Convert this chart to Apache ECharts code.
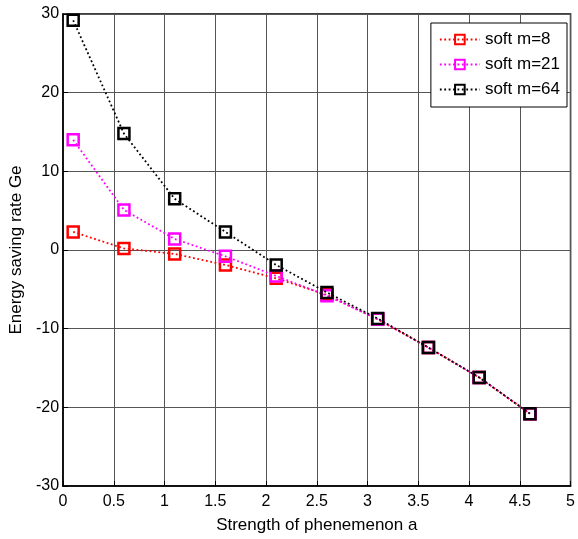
<!DOCTYPE html>
<html><head><meta charset="utf-8">
<script src="https://cdn.jsdelivr.net/npm/echarts@6/dist/echarts.min.js"></script>
<style>html,body{margin:0;padding:0;background:#fff}#c{width:578px;height:539px}</style>
</head><body><div id="c"></div>
<script>
const xValues = [0.1, 0.6, 1.1, 1.6, 2.1, 2.6, 3.1, 3.6, 4.1, 4.6];
const soft8 = [2.3, 0.2, -0.5, -1.9, -3.6, -5.7, -8.8, -12.4, -16.2, -20.8];
const soft21 = [14.0, 5.1, 1.4, -0.8, -3.3, -5.8, -8.8, -12.4, -16.2, -20.8];
const soft64 = [29.2, 14.8, 6.5, 2.3, -1.9, -5.4, -8.7, -12.4, -16.2, -20.8];
const seriesNames = ['soft m=8', 'soft m=21', 'soft m=64'];
const seriesColors = ['#ff0000', '#ff00ff', '#000000'];
const seriesData = [soft8, soft21, soft64];

const chart = echarts.init(document.getElementById('c'), null, {renderer: 'canvas'});
const font = 'Liberation Sans, Arial, sans-serif';
chart.setOption({
  animation: false,
  backgroundColor: '#fff',
  grid: {left: 62, right: 5, top: 14, bottom: 52, show: true, borderColor: '#000', borderWidth: 1.5, backgroundColor: 'transparent'},
  legend: {
    orient: 'vertical', right: 11, top: 23,
    backgroundColor: '#fff', borderColor: '#000', borderWidth: 1,
    padding: [8, 7, 9, 8], itemGap: 8, itemWidth: 40, itemHeight: 12,
    textStyle: {fontFamily: font, fontSize: 17, color: '#000'},
    data: seriesNames
  },
  xAxis: {
    type: 'value', min: 0, max: 5, interval: 0.5,
    name: 'Strength of phenemenon a', nameLocation: 'middle', nameGap: 31,
    nameTextStyle: {fontFamily: font, fontSize: 17, color: '#000'},
    axisLine: {onZero: false, lineStyle: {color: '#000', width: 1.5}},
    axisTick: {show: true, inside: true, length: 5, lineStyle: {color: '#000'}},
    axisLabel: {fontFamily: font, fontSize: 16, color: '#000', margin: 8},
    splitLine: {show: true, lineStyle: {color: '#555', width: 1}}
  },
  yAxis: {
    type: 'value', min: -30, max: 30, interval: 10,
    name: 'Energy saving rate Ge', nameLocation: 'middle', nameGap: 28, nameRotate: 90,
    nameTextStyle: {fontFamily: font, fontSize: 17, color: '#000'},
    axisLine: {show: true, onZero: false, lineStyle: {color: '#000', width: 1.5}},
    axisTick: {show: true, inside: true, length: 5, lineStyle: {color: '#000'}},
    axisLabel: {fontFamily: font, fontSize: 16, color: '#000', margin: 4},
    splitLine: {show: true, lineStyle: {color: '#555', width: 1}}
  },
  series: seriesNames.map((n, i) => ({
    name: n, type: 'line',
    data: xValues.map((x, j) => [x, seriesData[i][j]]),
    symbol: 'rect', symbolSize: 11,
    itemStyle: {color: 'rgba(255,255,255,0)', borderColor: seriesColors[i], borderWidth: 2.5},
    lineStyle: {color: seriesColors[i], width: 1.8, type: [1.8, 2.6]},
    z: 2 + i
  }))
});
</script></body></html>
